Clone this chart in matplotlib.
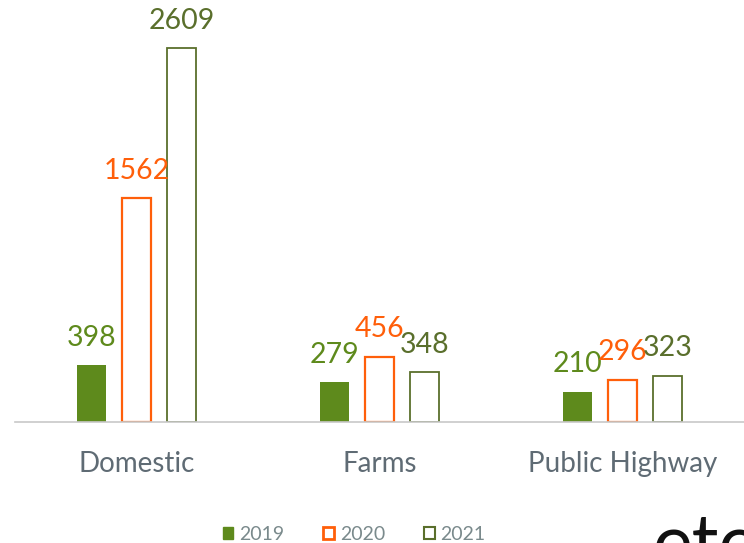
import matplotlib.pyplot as plt
import numpy as np
from matplotlib.patches import Patch

plt.rcParams['font.family'] = ['Lato', 'DejaVu Sans']

categories = ['Domestic', 'Farms', 'Public Highway']
years = ['2019', '2020', '2021']
values_2019 = [398, 279, 210]
values_2020 = [1562, 456, 296]
values_2021 = [2609, 348, 323]

green = '#5e8a1c'
orange = '#ff5f0a'
olive = '#5a6f2c'

fig = plt.figure(figsize=(7.44, 5.43), dpi=100)
ax = fig.add_axes([15 / 744, 121 / 543, 729 / 744, 422 / 543])

x = np.arange(len(categories))
w = 0.12
off = 0.185

b1 = ax.bar(x - off, values_2019, w, color=green, edgecolor=green, linewidth=0)
b2 = ax.bar(x, values_2020, w, facecolor='white', edgecolor=orange, linewidth=1.6)
b3 = ax.bar(x + off, values_2021, w, facecolor='white', edgecolor=olive, linewidth=1.3)

for bars, vals, col in [(b1, values_2019, green), (b2, values_2020, orange), (b3, values_2021, olive)]:
    for r, v in zip(bars, vals):
        ax.annotate(str(v), (r.get_x() + r.get_width() / 2, v), xytext=(0, 14),
                    textcoords='offset points', ha='center', va='baseline',
                    fontsize=20.5, color=col)

ax.set_xlim(-0.5, 2.5)
ax.set_ylim(0, 2945)
for s in ['top', 'right', 'left']:
    ax.spines[s].set_visible(False)
ax.spines['bottom'].set_color('#c8c8c8')
ax.spines['bottom'].set_linewidth(1.2)
ax.set_yticks([])
ax.set_xticks(x)
ax.set_xticklabels(categories, fontsize=20, color='#5f6b74')
ax.tick_params(axis='x', length=0, pad=21)

handles = [Patch(facecolor=green, edgecolor=green),
           Patch(facecolor='white', edgecolor=orange, linewidth=2),
           Patch(facecolor='white', edgecolor=olive, linewidth=1.5)]
leg = fig.legend(handles, years, loc='center', bbox_to_anchor=(0.476, 0.016), ncol=3,
                 frameon=False, fontsize=14, handlelength=0.55, handleheight=0.55,
                 handletextpad=0.3, columnspacing=2.0)
for t in leg.get_texts():
    t.set_color('#7a8a8c')

fig.text(653 / 744, -24 / 543, 'ete', fontsize=54, color='#111111', va='baseline')

fig.savefig('out.png', dpi=100)
